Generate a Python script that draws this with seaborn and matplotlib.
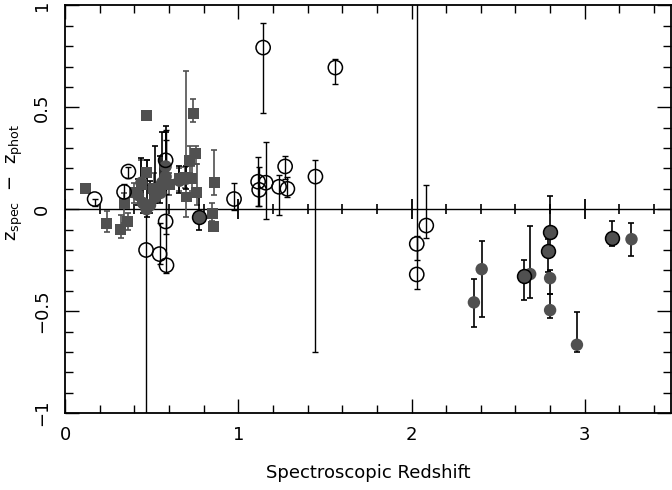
import matplotlib
matplotlib.use("Agg")
import matplotlib.pyplot as plt
import seaborn as sns
import pandas as pd
from matplotlib.ticker import MultipleLocator

# gray squares (x, y, lower err, upper err)
sq_x = [0.12, 0.24, 0.32, 0.34, 0.36, 0.40, 0.44, 0.47, 0.47, 0.51, 0.60, 0.66,
        0.69, 0.70, 0.72, 0.73, 0.74, 0.755, 0.76, 0.85, 0.855, 0.86]
sq_y = [0.10, -0.07, -0.10, 0.03, -0.06, 0.08, 0.12, 0.46, 0.18, 0.10, 0.12, 0.15,
        0.155, 0.06, 0.24, 0.15, 0.47, 0.275, 0.08, -0.02, -0.085, 0.13]
sq_lo = [0, 0.04, 0.04, 0.10, 0.04, 0.05, 0.06, 0, 0.06, 0.06, 0.05, 0.06,
         0.05, 0.10, 0.06, 0.06, 0.04, 0.055, 0.06, 0.04, 0, 0.06]
sq_hi = [0, 0.06, 0.07, 0.05, 0.04, 0.05, 0.12, 0, 0.06, 0.08, 0.06, 0.05,
         0.05, 0.62, 0.07, 0.06, 0.07, 0.035, 0.14, 0.05, 0, 0.16]

# open circles
oc_x = [0.17, 0.34, 0.365, 0.467, 0.545, 0.585, 0.58, 0.58, 0.975, 1.114, 1.12,
        1.143, 1.158, 1.235, 1.27, 1.283, 1.445, 1.56, 2.03, 2.03, 2.085]
oc_y = [0.05, 0.085, 0.185, -0.20, -0.22, -0.275, -0.06, 0.24, 0.05, 0.135, 0.095,
        0.793, 0.13, 0.11, 0.21, 0.10, 0.16, 0.695, -0.17, -0.32, -0.08]
oc_lo = [0.035, 0.05, 0.03, 1.0, 0.05, 0.04, 0.06, 0.06, 0.055, 0.12, 0.08,
         0.32, 0.18, 0.14, 0.06, 0.04, 0.86, 0.08, 0.08, 0.07, 0.06]
oc_hi = [0.0, 0.04, 0.02, 0.2, 0.15, 0.35, 0.4, 0.15, 0.08, 0.12, 0.11,
         0.12, 0.20, 0.06, 0.05, 0.06, 0.08, 0.04, 1.5, 0.19, 0.20]

# filled gray circles
fc_x = [0.42, 0.44, 0.45, 0.47, 0.49, 0.52, 0.55, 0.56, 0.58, 0.58, 0.66, 0.70,
        2.36, 2.405, 2.685, 2.80, 2.80, 2.955, 3.27]
fc_y = [0.07, 0.13, 0.03, 0.00, 0.02, 0.06, 0.08, 0.13, 0.16, 0.21, 0.14, 0.15,
        -0.457, -0.294, -0.318, -0.338, -0.495, -0.665, -0.147]
fc_lo = [0.05, 0.05, 0.05, 0.04, 0.04, 0.03, 0.05, 0.05, 0.04, 0.05, 0.06, 0.05,
         0.12, 0.237, 0.118, 0.08, 0.04, 0.037, 0.08]
fc_hi = [0.08, 0.12, 0.10, 0.24, 0.12, 0.25, 0.18, 0.25, 0.22, 0.20, 0.07, 0.06,
         0.117, 0.139, 0.238, 0.04, 0.08, 0.16, 0.08]

# filled gray circles with black rim
bc_x = [0.77, 2.65, 2.79, 2.80, 3.16]
bc_y = [-0.04, -0.327, -0.207, -0.114, -0.14]
bc_lo = [0.06, 0.12, 0.10, 0.08, 0.04]
bc_hi = [0.10, 0.08, 0.06, 0.18, 0.08]

x_ticks = [0, 1, 2, 3]
x_labels = ['0', '1', '2', '3']
y_ticks = [-1, -0.5, 0, 0.5, 1]
y_labels = ['\u22121', '\u22120.5', '0', '0.5', '1']

gray = "#505050"

sns.set_style("ticks")
plt.rcParams['font.family'] = ['DejaVu Sans']
plt.rcParams.update({'text.color': 'black', 'axes.labelcolor': 'black',
                     'xtick.color': 'black', 'ytick.color': 'black',
                     'axes.edgecolor': 'black'})

fig = plt.figure(figsize=(6.72, 4.9), dpi=100)
ax = fig.add_axes([0.097, 0.157, 0.902, 0.832])

# error bars
ax.errorbar(sq_x, sq_y, yerr=[sq_lo, sq_hi], fmt='none', ecolor=gray,
            elinewidth=1.2, capsize=2.5, capthick=1.2, zorder=2)
ax.errorbar(oc_x, oc_y, yerr=[oc_lo, oc_hi], fmt='none', ecolor='black',
            elinewidth=1.0, capsize=2.5, capthick=1.0, zorder=2)
ax.errorbar(fc_x, fc_y, yerr=[fc_lo, fc_hi], fmt='none', ecolor='black',
            elinewidth=1.2, capsize=2.5, capthick=1.2, zorder=2)
ax.errorbar(bc_x, bc_y, yerr=[bc_lo, bc_hi], fmt='none', ecolor='black',
            elinewidth=1.2, capsize=2.5, capthick=1.2, zorder=2)

# markers
sns.scatterplot(data=pd.DataFrame({'x': sq_x, 'y': sq_y}), x='x', y='y', ax=ax,
                marker='s', s=62, color=gray, edgecolor='none', zorder=3)
sns.scatterplot(data=pd.DataFrame({'x': fc_x, 'y': fc_y}), x='x', y='y', ax=ax,
                marker='o', s=80, color=gray, edgecolor='none', zorder=3)
sns.scatterplot(data=pd.DataFrame({'x': bc_x, 'y': bc_y}), x='x', y='y', ax=ax,
                marker='o', s=100, color=gray, edgecolor='black', linewidth=1.1, zorder=3)
sns.scatterplot(data=pd.DataFrame({'x': oc_x, 'y': oc_y}), x='x', y='y', ax=ax,
                marker='o', s=105, facecolor='none', edgecolor='black', linewidth=1.1, zorder=4)

ax.set_xlim(0, 3.5)
ax.set_ylim(-1, 1)
ax.set_xticks(x_ticks, x_labels, fontsize=13)
ax.set_yticks(y_ticks, y_labels, fontsize=13, rotation=90, va='center')
ax.xaxis.set_minor_locator(MultipleLocator(0.2))
ax.yaxis.set_minor_locator(MultipleLocator(0.1))
ax.tick_params(which='both', direction='in', top=True, right=True, width=1)
ax.tick_params(which='major', length=10)
ax.tick_params(which='minor', length=5.5)
ax.tick_params(axis='x', pad=9)
ax.tick_params(axis='y', pad=10)
for sp in ax.spines.values():
    sp.set_linewidth(1.3)

# zero line, with the x-axis ticks repeated across it
ax.axhline(0, color='black', lw=1.0, zorder=1)
major_locs = ax.xaxis.get_majorticklocs()
minor_locs = ax.xaxis.get_minorticklocs()
ax.plot(major_locs, [0] * len(major_locs), ls='none', marker='|', ms=14, mew=1.3,
        color='black', zorder=1)
ax.plot(minor_locs, [0] * len(minor_locs), ls='none', marker='|', ms=7, mew=1.2,
        color='black', zorder=1)

ax.set_xlabel('Spectroscopic Redshift', fontsize=13)
ax.xaxis.set_label_coords(0.5, -0.125)
ax.set_ylabel('z$_{\\rm spec}$  \u2212  z$_{\\rm phot}$', fontsize=13)
ax.yaxis.set_label_coords(-0.066, 0.567)

fig.savefig('out.png', dpi=100)
